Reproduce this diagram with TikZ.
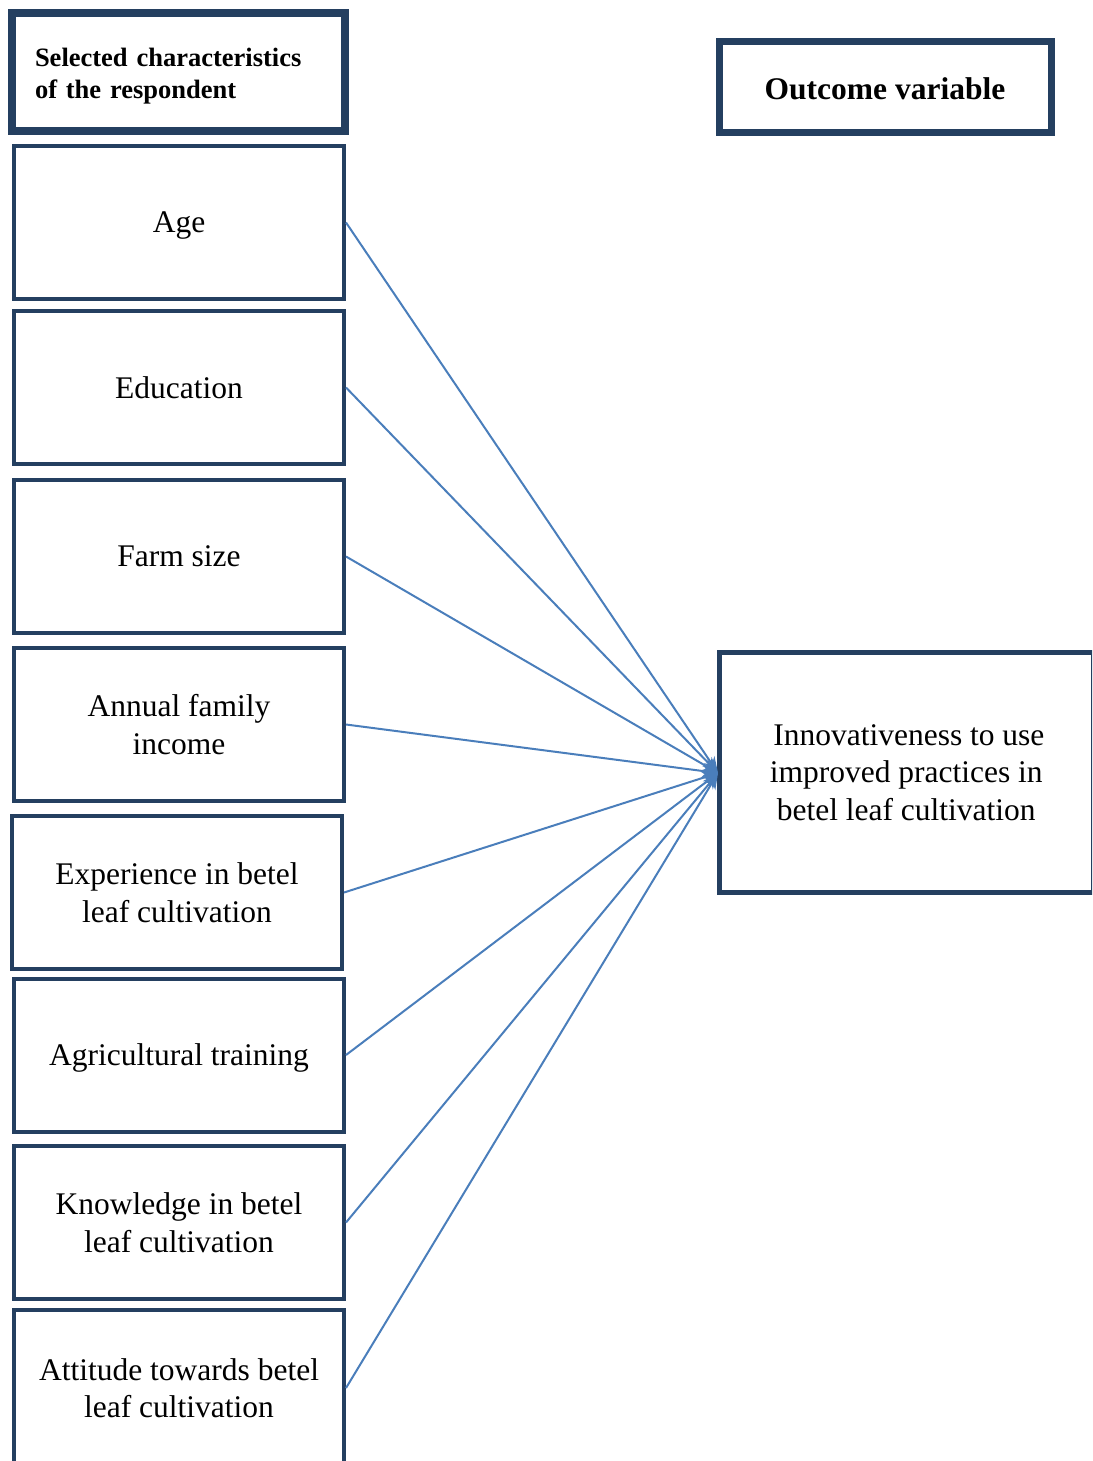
\documentclass[tikz,border=0pt]{standalone}
\usepackage{fontspec}
\setmainfont{Liberation Serif}
\usetikzlibrary{arrows.meta}
\definecolor{navy}{HTML}{243F60}
\definecolor{linkblue}{HTML}{4A7EBB}
\tikzset{
  factorbox/.style={draw=navy, line width=4pt, minimum width=330pt, minimum height=153pt,
    inner sep=0pt, align=center, font=\fontsize{31.5}{37.5}\selectfont},
  link/.style={draw=linkblue, line width=2pt, -{Stealth[length=16pt,width=13pt]}}
}
\begin{document}
\begin{tikzpicture}[x=1pt,y=-1pt]
\useasboundingbox (0,0) rectangle (1092,1461);
\begin{scope}
\clip (0,0) rectangle (1092,1461);
% headers
\node[draw=navy, line width=8pt, minimum width=333pt, minimum height=118pt, inner sep=0pt,
  inner xsep=23pt, text width=287pt, align=left,
  font=\bfseries\fontsize{26.5}{32}\selectfont] (hleft) at (178.5,72)
  {\raisebox{-4pt}[\height][\depth]{\begin{tabular}{@{}l@{}}Selected characteristics\\of the respondent\end{tabular}}};
\node[draw=navy, line width=7pt, minimum width=332pt, minimum height=91pt, inner sep=0pt,
  font=\bfseries\fontsize{31.5}{37.5}\selectfont] (hright) at (885,87)
  {\raisebox{-2pt}[\height][\depth]{Outcome variable}};
% factor boxes
\node[factorbox, text depth=0pt] (age) at (179,222.5) {Age};
\node[factorbox] (edu) at (179,387.5) {Education};
\node[factorbox] (farm) at (179,556.5) {Farm size};
\node[factorbox] (inc) at (179,724.5) {Annual family\\income};
\node[factorbox] (exp) at (177,892.5) {Experience in betel\\leaf cultivation};
\node[factorbox, text depth=0pt] (agri) at (179,1055) {Agricultural training};
\node[factorbox] (know) at (179,1222.5) {Knowledge in betel\\leaf cultivation};
\node[factorbox, minimum height=157pt] (att) at (179,1388) {Attitude towards betel\\leaf cultivation};
% target
\node[draw=navy, line width=4.5pt, minimum width=373.5pt, minimum height=240pt, inner sep=0pt,
  align=center, font=\fontsize{31.5}{37.5}\selectfont] (inno) at (906.25,772.5)
  {\,Innovativeness to use\\improved practices in\\betel leaf cultivation};
\coordinate (tip) at (718,773);
\foreach \s in {age,edu,farm,inc,exp,agri,know,att}
  \draw[link] (\s.east) -- (tip);
\end{scope}
\end{tikzpicture}
\end{document}
